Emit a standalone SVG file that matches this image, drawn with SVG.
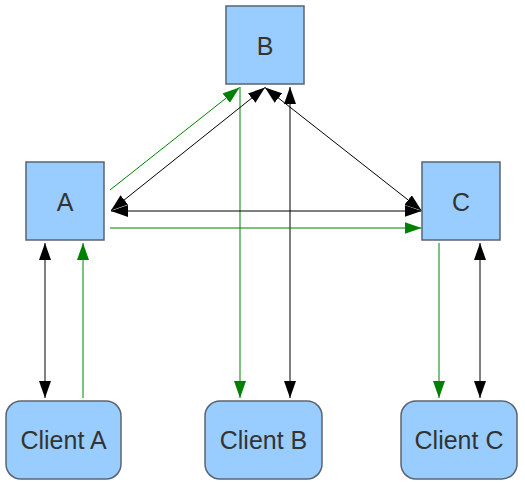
<svg xmlns="http://www.w3.org/2000/svg" width="525" height="484" viewBox="0 0 525 484">
<style>
.box{fill:#99ccff;stroke:#5a6470;stroke-width:1.5}
.lbl{font-family:"Liberation Sans",Arial,sans-serif;font-size:25px;fill:#333333;text-anchor:middle}
.k{stroke:#000;stroke-width:1;fill:none}
.g{stroke:#008000;stroke-width:1;fill:none}
</style>
<defs>
<marker id="ak" viewBox="0 0 17 12" refX="17" refY="6" markerWidth="17" markerHeight="12" markerUnits="userSpaceOnUse" orient="auto-start-reverse"><path d="M0,0L17,6L0,12z" fill="#000"/></marker>
<marker id="ag" viewBox="0 0 17 12" refX="17" refY="6" markerWidth="17" markerHeight="12" markerUnits="userSpaceOnUse" orient="auto"><path d="M0,0L17,6L0,12z" fill="#008000"/></marker>
</defs>
<g id="connectors">
<line class="k" x1="45" y1="243" x2="45" y2="398" marker-start="url(#ak)" marker-end="url(#ak)"/>
<line class="g" x1="83" y1="398" x2="83" y2="243" marker-end="url(#ag)"/>
<line class="g" x1="240" y1="87" x2="240" y2="398" marker-end="url(#ag)"/>
<line class="k" x1="290" y1="87" x2="290" y2="398" marker-start="url(#ak)" marker-end="url(#ak)"/>
<line class="g" x1="439" y1="243" x2="439" y2="398" marker-end="url(#ag)"/>
<line class="k" x1="480" y1="243" x2="480" y2="398" marker-start="url(#ak)" marker-end="url(#ak)"/>
<line class="g" x1="110" y1="190" x2="239.5" y2="87.5" marker-end="url(#ag)"/>
<line class="k" x1="111" y1="210.5" x2="265" y2="87.5" marker-start="url(#ak)" marker-end="url(#ak)"/>
<line class="k" x1="265" y1="87.5" x2="421.5" y2="210.5" marker-start="url(#ak)" marker-end="url(#ak)"/>
<line class="k" x1="111" y1="211" x2="421.5" y2="211" marker-start="url(#ak)" marker-end="url(#ak)"/>
<line class="g" x1="110" y1="228" x2="421.5" y2="228" marker-end="url(#ag)"/>
</g>
<g id="B"><rect class="box" x="226" y="6" width="78" height="78"/><text class="lbl" x="265" y="55">B</text></g>
<g id="A"><rect class="box" x="26" y="162" width="78" height="78"/><text class="lbl" x="65" y="211">A</text></g>
<g id="C"><rect class="box" x="422" y="162" width="78" height="78"/><text class="lbl" x="461" y="211">C</text></g>
<g id="ClientA"><rect class="box" x="6" y="401" width="115" height="78" rx="15"/><text class="lbl" x="63.5" y="449">Client A</text></g>
<g id="ClientB"><rect class="box" x="205" y="401" width="117" height="78" rx="15"/><text class="lbl" x="263.5" y="449">Client B</text></g>
<g id="ClientC"><rect class="box" x="401" y="401" width="116" height="78" rx="15"/><text class="lbl" x="459" y="449">Client C</text></g>
</svg>
